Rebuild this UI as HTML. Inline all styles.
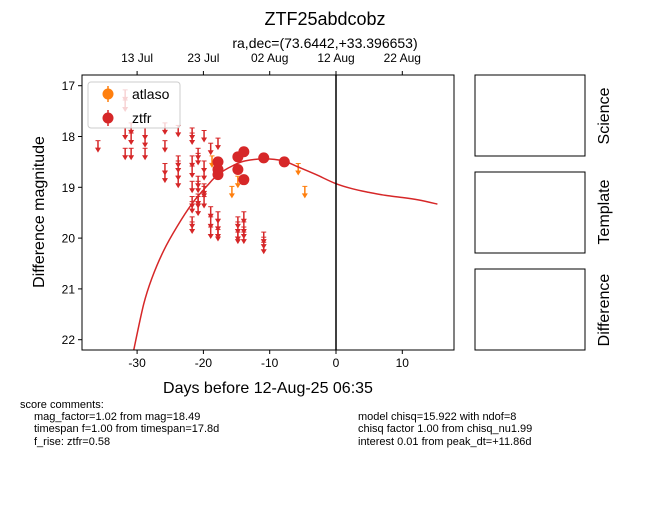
<!DOCTYPE html>
<html><head><meta charset="utf-8"><style>
body{margin:0;background:#fff;width:650px;height:500px;overflow:hidden;font-family:"Liberation Sans","DejaVu Sans",sans-serif}
svg text{font-family:"Liberation Sans","DejaVu Sans",sans-serif}
</style></head><body>
<svg id="c" width="650" height="500" xmlns="http://www.w3.org/2000/svg">
<rect width="650" height="500" fill="#fff"/>
<text x="325" y="25" font-size="18" text-anchor="middle">ZTF25abdcobz</text>
<text x="325" y="48" font-size="14" text-anchor="middle">ra,dec=(73.6442,+33.396653)</text>
<g id="marks"></g>
<g id="axes"></g>
<rect x="475" y="75" width="110" height="81" fill="none" stroke="#000"/>
<rect x="475" y="172" width="110" height="81" fill="none" stroke="#000"/>
<rect x="475" y="269" width="110" height="81" fill="none" stroke="#000"/>
<text transform="translate(609,116) rotate(-90)" font-size="16" text-anchor="middle">Science</text>
<text transform="translate(609,212) rotate(-90)" font-size="16" text-anchor="middle">Template</text>
<text transform="translate(609,310) rotate(-90)" font-size="16" text-anchor="middle">Difference</text>
<g font-size="11">
<text x="20" y="408">score comments:</text>
<text x="34" y="420">mag_factor=1.02 from mag=18.49</text>
<text x="34" y="432">timespan f=1.00 from timespan=17.8d</text>
<text x="34" y="445">f_rise: ztfr=0.58</text>
<text x="358" y="420">model chisq=15.922 with ndof=8</text>
<text x="358" y="432">chisq factor 1.00 from chisq_nu1.99</text>
<text x="358" y="445">interest 0.01 from peak_dt=+11.86d</text>
</g>
</svg>
<script>
const ztfLimDays=[-35.9,-31.8,-31.8,-31.8,-31.8,-30.9,-30.9,-30.9,-28.8,-28.8,-28.8,-25.8,-25.8,-25.8,-25.8,-23.8,-23.8,-23.8,-23.8,-23.8,-21.7,-21.7,-21.7,-21.7,-21.7,-21.7,-21.7,-21.7,-21.7,-20.8,-20.8,-20.8,-20.8,-20.8,-20.8,-20.8,-19.9,-19.9,-19.9,-19.9,-19.9,-19.9,-18.9,-18.9,-18.9,-18.9,-17.8,-17.8,-17.8,-17.8,-17.8,-14.8,-14.8,-14.8,-14.8,-13.9,-13.9,-13.9,-13.9,-10.9,-10.9,-10.9];
const ztfLimMags=[18.2,17.2,17.4,17.95,18.35,17.85,18.05,18.35,17.95,18.1,18.35,17.85,18.2,18.65,18.8,17.9,18.5,18.6,18.75,18.9,17.95,18.05,18.5,18.7,19.0,19.3,19.4,19.7,19.8,18.35,18.45,18.9,19.0,19.25,19.3,19.45,18.0,18.6,18.75,19.05,19.1,19.3,18.25,19.5,19.7,19.9,18.15,19.6,19.75,19.9,19.95,19.7,19.8,19.95,20.0,19.6,19.8,19.9,20.0,20.0,20.1,20.2];
const ztfDetDays=[-17.8,-17.8,-17.8,-14.8,-14.8,-13.9,-13.9,-10.9,-7.8];
const ztfDetMags=[18.5,18.65,18.75,18.4,18.65,18.3,18.85,18.42,18.5];
const ztfDetErr=[0.1,0.1,0.1,0.08,0.08,0.08,0.1,0.1,0.1];
const atlLimDays=[-18.7,-14.8,-15.7,-5.7,-4.7];
const atlLimMags=[18.5,18.9,19.1,18.65,19.1];
const modelDays=[-30.5,-29,-27.8,-26,-24,-21.7,-19.5,-17.8,-15.5,-13.7,-10.8,-8,-5.7,-3,0,2.5,5,7.5,10,12.5,15.3];
const modelMags=[22.2,21.3,20.8,20.25,19.78,19.32,18.98,18.75,18.57,18.48,18.44,18.48,18.6,18.75,18.93,19.03,19.1,19.16,19.2,19.25,19.33];
const xTicks=[-30,-20,-10,0,10];
const yTicks=[17,18,19,20,21,22];
const topTicks=[-30,-20,-10,0,10];
const topLabels=["13 Jul","23 Jul","02 Aug","12 Aug","22 Aug"];
const X0=82,X1=454,Y0=75,Y1=350;
const x=d=>336+d*6.63;
const y=m=>136.5+(m-18)*50.8;
const NS="http://www.w3.org/2000/svg";
function mk(t,a,p){const e=document.createElementNS(NS,t);for(const k in a)e.setAttribute(k,a[k]);(p||document.getElementById('marks')).appendChild(e);return e;}
const M=document.getElementById('marks'),A=document.getElementById('axes');
const clip=mk('clipPath',{id:'pc'},M);mk('rect',{x:X0,y:Y0,width:X1-X0,height:Y1-Y0},clip);
const g=mk('g',{'clip-path':'url(#pc)'},M);
function lim(d,m,col,name){const px=x(d),py=y(m);const gg=mk('g',{},g);


mk('line',{x1:px,y1:py-6,x2:px,y2:py+4,stroke:col,'stroke-width':1.5},gg);
mk('path',{d:`M${px-3},${py+1}L${px+3},${py+1}L${px},${py+6}Z`,fill:col},gg);
mk('line',{x1:px-2.5,y1:py-6,x2:px+2.5,y2:py-6,stroke:col,'stroke-width':1},gg);}
ztfLimDays.forEach((d,i)=>lim(d,ztfLimMags[i],'#d62728','ztfr-upper-limit'));
atlLimDays.forEach((d,i)=>lim(d,atlLimMags[i],'#ff7f0e','atlaso-upper-limit'));
const P=modelDays.map((d,i)=>[x(d),y(modelMags[i])]);
let pd='M'+P[0][0]+','+P[0][1];
for(let i=0;i<P.length-1;i++){const p0=P[Math.max(0,i-1)],p1=P[i],p2=P[i+1],p3=P[Math.min(P.length-1,i+2)];
pd+=`C${(p1[0]+(p2[0]-p0[0])/6).toFixed(1)},${(p1[1]+(p2[1]-p0[1])/6).toFixed(1)} ${(p2[0]-(p3[0]-p1[0])/6).toFixed(1)},${(p2[1]-(p3[1]-p1[1])/6).toFixed(1)} ${p2[0].toFixed(1)},${p2[1].toFixed(1)}`;}
const ml=mk('path',{d:pd,fill:'none',stroke:'#d62728','stroke-width':1.5},g);


ztfDetDays.forEach((d,i)=>{const px=x(d),py=y(ztfDetMags[i]),e=ztfDetErr[i]*50.8;const gg=mk('g',{},g);


mk('line',{x1:px,y1:py-e,x2:px,y2:py+e,stroke:'#d62728','stroke-width':1.5},gg);
mk('circle',{cx:px,cy:py,r:5.5,fill:'#d62728'},gg);});
mk('line',{x1:336,y1:Y0,x2:336,y2:Y1,stroke:'#000','stroke-width':1.5},g);
mk('rect',{x:X0,y:Y0,width:X1-X0,height:Y1-Y0,fill:'none',stroke:'#000','stroke-width':1},A);
xTicks.forEach(t=>{mk('line',{x1:x(t),y1:Y1,x2:x(t),y2:Y1+4,stroke:'#000'},A);
const tx=mk('text',{x:x(t),y:Y1+17,'font-size':12,'text-anchor':'middle'},A);tx.textContent=t;

});
topTicks.forEach((t,i)=>{mk('line',{x1:x(t),y1:Y0,x2:x(t),y2:Y0-4,stroke:'#000'},A);
const tx=mk('text',{x:x(t),y:Y0-13,'font-size':12,'text-anchor':'middle'},A);tx.textContent=topLabels[i];

});
yTicks.forEach(t=>{mk('line',{x1:X0,y1:y(t),x2:X0-4,y2:y(t),stroke:'#000'},A);
const tx=mk('text',{x:X0-7,y:y(t)+4.5,'font-size':12,'text-anchor':'end'},A);tx.textContent=t;

});
const xt=mk('text',{x:268,y:393,'font-size':16,'text-anchor':'middle'},A);xt.textContent='Days before 12-Aug-25 06:35';


const yt=mk('text',{transform:'translate(44,212) rotate(-90)','font-size':16,'text-anchor':'middle'},A);yt.textContent='Difference magnitude';


const L=mk('g',{},A);


mk('rect',{x:88,y:82,width:92,height:46,rx:3,fill:'#fff','fill-opacity':0.8,stroke:'#ccc'},L);
[['#ff7f0e','atlaso',94],['#d62728','ztfr',118]].forEach(([c,n,yy])=>{
mk('line',{x1:108,y1:yy-8,x2:108,y2:yy+8,stroke:c,'stroke-width':1.5},L);
mk('circle',{cx:108,cy:yy,r:5.5,fill:c},L);
const t=mk('text',{x:132,y:yy+5,'font-size':14},L);t.textContent=n;

});
</script>
</body></html>
